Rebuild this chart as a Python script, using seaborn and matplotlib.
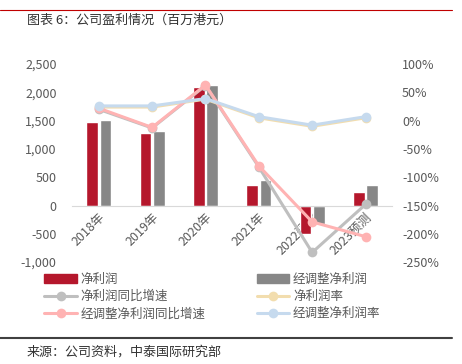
import numpy as np
import pandas as pd
import seaborn as sns
import matplotlib.pyplot as plt
from matplotlib.ticker import FuncFormatter

years = ["2018年", "2019年", "2020年", "2021年", "2022预测", "2023预测"]
net_profit = [1475, 1285, 2100, 365, -495, 230]
adj_net_profit = [1510, 1315, 2130, 450, -330, 370]
net_growth = [20, -13, 62, -82, -233, -148]
net_margin = [24, 24, 38, 5, -10, 5]
adj_growth = [22, -12, 63, -80, -179, -205]
adj_margin = [26, 26, 39, 7, -8, 7]

sns.set_style("white")
plt.rcParams["font.family"] = ["Noto Sans CJK SC", "DejaVu Sans"]
txt = "#595959"

fig = plt.figure(figsize=(4.62, 3.64), dpi=100)
ax = fig.add_axes([0.156, 0.280, 0.693, 0.544])

df = pd.DataFrame({
    "year": years * 2,
    "value": net_profit + adj_net_profit,
    "series": ["净利润"] * len(years) + ["经调整净利润"] * len(years),
})
sns.barplot(data=df, x="year", y="value", hue="series", ax=ax,
            palette=["#B5172C", "#878787"], width=0.5, gap=0.12,
            saturation=1, legend=False)
ax.set_ylim(-1000, 2500)
ax.set_yticks(range(-1000, 2501, 500))
ax.yaxis.set_major_formatter(FuncFormatter(lambda v, p: f"{int(v):,}"))
ax.set_xlim(-0.5, 5.5)
ax.set_xlabel("")
ax.set_ylabel("")
for s in ["top", "right", "left"]:
    ax.spines[s].set_visible(False)
ax.spines["bottom"].set_position(("data", 0))
ax.spines["bottom"].set_color("#D9D9D9")
ax.tick_params(axis="x", length=0, labelsize=9, colors=txt, pad=4)
ax.tick_params(axis="y", length=0, labelsize=9, colors=txt, pad=11)
plt.setp(ax.get_xticklabels(), rotation=45, ha="right", rotation_mode="anchor")

ax2 = ax.twinx()
x = np.arange(len(years))
line_specs = [
    (net_growth, "#BFBFBF", "净利润同比增速"),
    (net_margin, "#F2DDAE", "净利润率"),
    (adj_growth, "#FFB3B3", "经调整净利润同比增速"),
    (adj_margin, "#C6DAEE", "经调整净利润率"),
]
for vals, col, lab in line_specs:
    sns.lineplot(x=x, y=vals, ax=ax2, color=col, lw=2.2, marker="o",
                 markersize=7, markeredgewidth=0, label=lab, legend=False)
ax2.set_ylim(-250, 100)
ax2.set_yticks(range(-250, 101, 50))
ax2.yaxis.set_major_formatter(FuncFormatter(lambda v, p: f"{int(v)}%"))
for s in ax2.spines.values():
    s.set_visible(False)
ax2.tick_params(axis="y", length=0, labelsize=9, colors=txt, pad=7)

bars = [plt.Rectangle((0, 0), 1, 1, color=c) for c in ["#B5172C", "#878787"]]
lines = ax2.get_lines()
handles = [bars[0], lines[0], lines[2], bars[1], lines[1], lines[3]]
labels = ["净利润", "净利润同比增速", "经调整净利润同比增速",
          "经调整净利润", "净利润率", "经调整净利润率"]
fig.legend(handles, labels, ncol=2, loc="upper left",
           bbox_to_anchor=(0.085, 0.265), frameon=False, fontsize=9,
           labelcolor=txt, handlelength=2.6, handletextpad=0.3,
           columnspacing=4.1, labelspacing=0.35, borderaxespad=0)

fig.text(0.058, 0.945, "图表 6：公司盈利情况（百万港元）", fontsize=9.4, color="#333333",
         va="center")
fig.text(0.058, 0.033, "来源：公司资料，中泰国际研究部", fontsize=9.4, color="#333333",
         va="center")
fig.add_artist(plt.Line2D([0, 0.978], [0.972, 0.972], color="#C00000", lw=0.8))
fig.add_artist(plt.Line2D([0, 0.978], [0.071, 0.071], color="#404040", lw=1.5))

fig.savefig("out.png", dpi=100)
